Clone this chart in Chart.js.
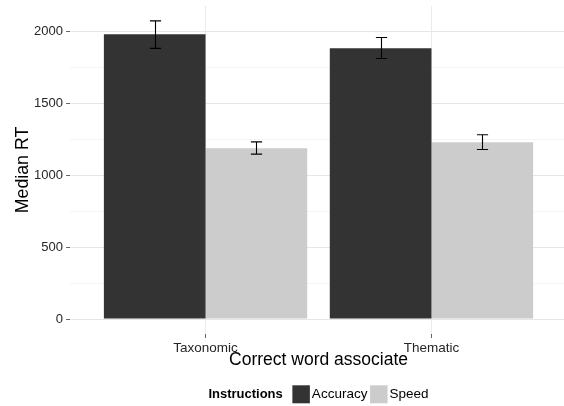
<!DOCTYPE html>
<html>
<head>
<meta charset="utf-8">
<script src="https://cdn.jsdelivr.net/npm/chart.js@4/dist/chart.umd.min.js"></script>
<style>
  html, body { margin: 0; padding: 0; background: #fff; overflow: hidden; }
  #wrap { width: 564px; height: 406px; overflow: hidden; position: relative; }
  canvas { display: block; }
</style>
</head>
<body>
<div id="wrap"><canvas id="c" width="637" height="406"></canvas></div>
<script>
// ---- data ----
const categories = ['Taxonomic', 'Thematic'];
const seriesNames = ['Accuracy', 'Speed'];
const accuracy = [1979, 1882];
const speed = [1187, 1229];
const accuracyLow = [1880, 1810];
const accuracyHigh = [2071, 1956];
const speedLow = [1146, 1178];
const speedHigh = [1231, 1280];
const yTicks = [0, 250, 500, 750, 1000, 1250, 1500, 1750, 2000];
const legendTitle = 'Instructions';
const xTitle = 'Correct word associate';
const yTitle = 'Median RT';

const colors = ['#333333', '#cccccc'];
const FONT = '"Liberation Sans", Arial, Helvetica, sans-serif';

const errs = [[accuracyLow, accuracyHigh], [speedLow, speedHigh]];

const errorBarPlugin = {
  id: 'errorBars',
  afterDatasetsDraw(chart) {
    const ctx = chart.ctx;
    const ys = chart.scales.y;
    ctx.save();
    ctx.strokeStyle = '#000';
    ctx.lineWidth = 1.1;
    chart.data.datasets.forEach((ds, i) => {
      const meta = chart.getDatasetMeta(i);
      meta.data.forEach((el, j) => {
        const x = Math.round(el.x) + 0.5;
        const yh = ys.getPixelForValue(errs[i][1][j]);
        const yl = ys.getPixelForValue(errs[i][0][j]);
        const hw = 5.6;
        ctx.beginPath();
        ctx.moveTo(x, yh); ctx.lineTo(x, yl);
        ctx.moveTo(x - hw, yh); ctx.lineTo(x + hw, yh);
        ctx.moveTo(x - hw, yl); ctx.lineTo(x + hw, yl);
        ctx.stroke();
      });
    });
    ctx.restore();
  }
};

const legendPlugin = {
  id: 'ggLegend',
  afterDraw(chart) {
    const ctx = chart.ctx;
    const ca = chart.chartArea;
    const cx = (ca.left + ca.right) / 2;
    const cy = 394.3;
    ctx.save();
    ctx.textBaseline = 'middle';
    ctx.textAlign = 'left';
    const titleFont = 'bold 13px ' + FONT;
    const itemFont = '13.5px ' + FONT;
    ctx.font = titleFont;
    const wT = ctx.measureText(legendTitle).width;
    ctx.font = itemFont;
    const wI = seriesNames.map(s => ctx.measureText(s).width);
    const box = 17.5, gapT = 9.6, gapBT = 2, gapTB = 2.7;
    const total = wT + gapT + box + gapBT + wI[0] + gapTB + box + gapBT + wI[1];
    let x = cx - total / 2;
    ctx.fillStyle = '#000';
    ctx.font = titleFont;
    ctx.fillText(legendTitle, x, cy);
    x += wT + gapT;
    ctx.font = itemFont;
    seriesNames.forEach((s, i) => {
      ctx.fillStyle = colors[i];
      ctx.fillRect(x, cy - 9, box, 18);
      x += box + gapBT;
      ctx.fillStyle = '#000';
      ctx.fillText(s, x, cy);
      x += wI[i] + gapTB;
    });
    ctx.restore();
  }
};

new Chart(document.getElementById('c'), {
  type: 'bar',
  data: {
    datasets: [
      { label: seriesNames[0], data: accuracy.map((v, i) => ({ x: i + 1, y: v })), backgroundColor: colors[0], borderWidth: 0 },
      { label: seriesNames[1], data: speed.map((v, i) => ({ x: i + 1, y: v })), backgroundColor: colors[1], borderWidth: 0 }
    ]
  },
  options: {
    responsive: false,
    animation: false,
    devicePixelRatio: 1,
    layout: { padding: { left: 0, right: 70, top: 6, bottom: 36 } },
    datasets: { bar: { barPercentage: 1, categoryPercentage: 0.9 } },
    plugins: { legend: { display: false }, tooltip: { enabled: false } },
    scales: {
      x: {
        type: 'linear',
        offset: false,
        min: 0.4,
        max: 2.6,
        afterBuildTicks: (s) => { s.ticks = categories.map((c, i) => ({ value: i + 1 })); },
        afterFit: (s) => { s.height = 36; s.paddingLeft = 0; s.paddingRight = 0; },
        border: { display: false },
        grid: { offset: false, color: '#ebebeb', lineWidth: 1, tickLength: 4, tickColor: '#666', tickWidth: 1 },
        ticks: {
          padding: 2,
          color: '#262626',
          font: { family: FONT, size: 13.5 },
          maxRotation: 0,
          autoSkip: false,
          callback: (v) => categories[v - 1]
        },
        title: { display: true, text: xTitle, color: '#000', font: { family: FONT, size: 17.5, lineHeight: 1 }, padding: { top: 0, bottom: 1.25 } }
      },
      y: {
        min: -103.5,
        max: 2174.6,
        afterBuildTicks: (s) => { s.ticks = yTicks.map(v => ({ value: v })); },
        afterFit: (s) => { s.width = 70; s.paddingTop = 0; s.paddingBottom = 0; },
        border: { display: false },
        grid: {
          color: (c) => (c.tick && c.tick.value % 500 === 0) ? '#e6e6e6' : '#f4f4f4',
          lineWidth: 1,
          tickLength: 4,
          tickColor: (c) => (c.tick && c.tick.value % 500 === 0) ? '#666' : 'rgba(0,0,0,0)',
          tickWidth: 1
        },
        ticks: {
          padding: 3,
          color: '#262626',
          font: { family: FONT, size: 13 },
          callback: (v) => (v % 500 === 0 ? String(v) : '')
        },
        title: { display: true, text: yTitle, color: '#000', font: { family: FONT, size: 17.8, lineHeight: 1 }, padding: { top: 14, bottom: 0 } }
      }
    }
  },
  plugins: [errorBarPlugin, legendPlugin]
});
</script>
</body>
</html>
